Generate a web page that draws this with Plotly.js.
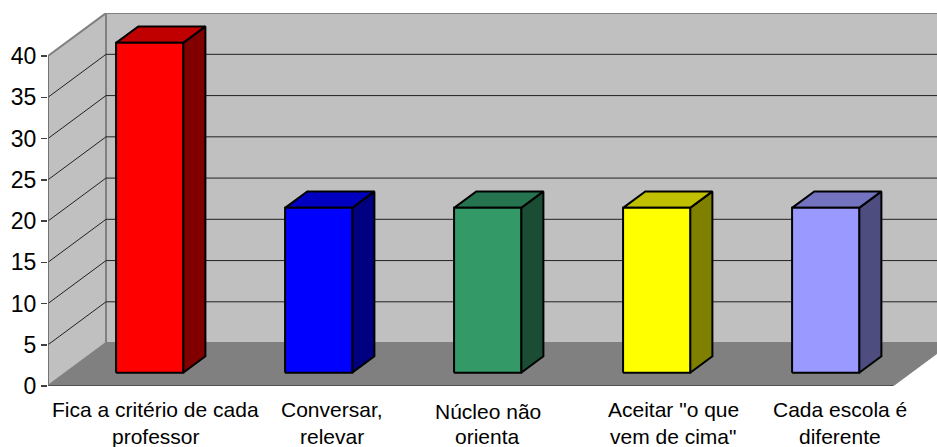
<!DOCTYPE html>
<html>
<head>
<meta charset="utf-8">
<script src="https://cdn.plot.ly/plotly-3.0.0.min.js"></script>
<style>html,body{margin:0;padding:0;background:#fff;overflow:hidden}#chart{width:937px;height:447px}</style>
</head>
<body>
<div id="chart"></div>
<script>
// Data
const categories = [
  ['Fica a critério de cada', 'professor'],
  ['Conversar,', 'relevar'],
  ['Núcleo não', 'orienta'],
  ['Aceitar "o que', 'vem de cima"'],
  ['Cada escola é', 'diferente']
];
const values = [40, 20, 20, 20, 20];
const yTicks = [0, 5, 10, 15, 20, 25, 30, 35, 40];

// Styles
const frontColors = ['#FF0000', '#0000FF', '#339966', '#FFFF00', '#9999FF'];
const topColors   = ['#C00000', '#0000C0', '#267350', '#C0C000', '#7373BF'];
const sideColors  = ['#800000', '#000080', '#1A4D33', '#808000', '#4D4D80'];

// Oblique projection: depth 0 = front plane, depth 1 = back wall
const W = 937, H = 447, L = 48, FLOOR = 386.5, TOP = 13;
const catPx = 169, unitPx = 8.26, depthX = 58, depthY = 43;
const nCat = categories.length, vMax = 40;
const px = (c, d) => c + d * depthX / catPx;
const py = (v, d) => v + d * depthY / unitPx;

function poly(pts, fill, lineColor, lineWidth) {
  return {
    type: 'scatter', mode: 'lines', hoverinfo: 'skip', showlegend: false, cliponaxis: false,
    x: pts.map(p => px(p[0], p[2])), y: pts.map(p => py(p[1], p[2])),
    fill: fill ? 'toself' : 'none', fillcolor: fill || undefined,
    line: {color: lineColor, width: lineWidth, simplify: false}
  };
}

const traces = [];
// back wall, left wall, floor
traces.push(poly([[0,0,1],[nCat,0,1],[nCat,vMax,1],[0,vMax,1],[0,0,1]], '#C0C0C0', '#808080', 2));
traces.push(poly([[0,0,0],[0,vMax,0],[0,vMax,1],[0,0,1],[0,0,0]], '#C0C0C0', '#808080', 2));
traces.push(poly([[0,0,0],[nCat,0,0],[nCat,0,1],[0,0,1],[0,0,0]], '#808080', '#808080', 1));
// gridlines
yTicks.filter(v => v > 0 && v < vMax).forEach(v => {
  traces.push(poly([[0,v,0],[0,v,1],[nCat,v,1]], null, '#222222', 1));
});
// front edge of the floor
traces.push(poly([[0,0,0],[nCat,0,0]], null, '#404040', 1.5));
traces.push(poly([[0,0,0],[0,vMax,0]], null, '#707070', 1.5));

// bars
const barW = 0.397, barCentre = 0.496, d0 = 0.307, d1 = 0.69;
values.forEach((v, i) => {
  const a = i + barCentre - barW / 2, b = i + barCentre + barW / 2;
  traces.push(poly([[b,0,d0],[b,0,d1],[b,v,d1],[b,v,d0],[b,0,d0]], sideColors[i], '#000', 2));
  traces.push(poly([[a,v,d0],[a,v,d1],[b,v,d1],[b,v,d0],[a,v,d0]], topColors[i], '#000', 2));
  traces.push(poly([[a,0,d0],[b,0,d0],[b,v,d0],[a,v,d0],[a,0,d0]], frontColors[i], '#000', 2));
});

// category labels
const labelCentre = [155.5, 331.5, 487.5, 673, 840];
const labelRow = [[410, 437.5], [410, 437.5], [412, 437.5], [410, 437.5], [410, 437.5]];
const annotations = [];
categories.forEach((lines, i) => lines.forEach((t, j) => {
  annotations.push({
    text: t, showarrow: false, xref: 'paper', yref: 'paper',
    x: (labelCentre[i] - L) / (W - L),
    y: (FLOOR - labelRow[i][j]) / (FLOOR - TOP),
    xanchor: 'center', yanchor: 'middle',
    font: {family: 'Liberation Sans, Arial, sans-serif', size: 21, color: '#000'}
  });
}));

Plotly.newPlot('chart', traces, {
  width: W, height: H,
  margin: {l: L, r: 0, t: TOP, b: H - FLOOR, pad: 0},
  paper_bgcolor: '#fff', plot_bgcolor: 'rgba(0,0,0,0)',
  showlegend: false,
  xaxis: {range: [0, (W - L) / catPx], showgrid: false, zeroline: false, showline: false,
          showticklabels: false, ticks: '', fixedrange: true},
  yaxis: {range: [0, (FLOOR - TOP) / unitPx], tickmode: 'array', tickvals: yTicks,
          ticktext: yTicks.map(String), showgrid: false, zeroline: false, showline: false,
          ticks: 'outside', ticklen: 6, tickwidth: 1.5, tickcolor: '#404040',
          tickfont: {family: 'Liberation Sans, Arial, sans-serif', size: 23, color: '#000'},
          fixedrange: true},
  annotations: annotations
}, {displayModeBar: false, staticPlot: true});
</script>
</body>
</html>
